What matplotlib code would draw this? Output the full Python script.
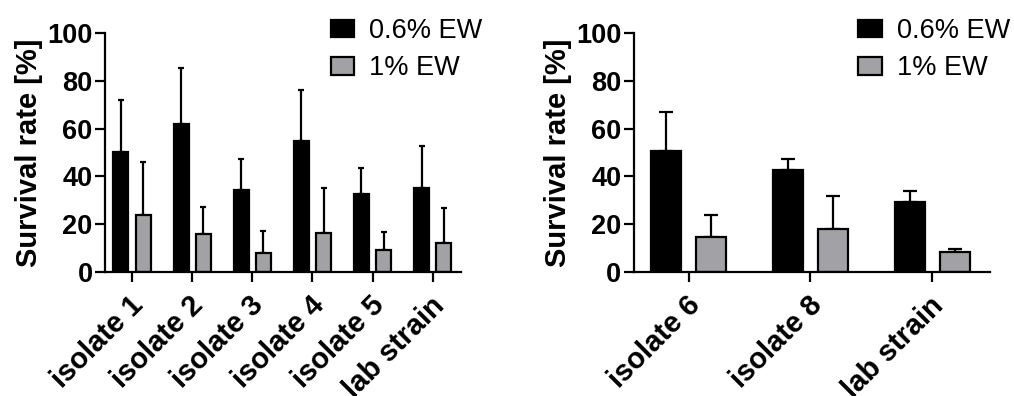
import numpy as np
import matplotlib
matplotlib.use('Agg')
import matplotlib.pyplot as plt
import matplotlib.transforms as mtransforms
from matplotlib.patches import Patch

plt.rcParams['font.family'] = ['Liberation Sans', 'DejaVu Sans']

# left panel
left_cats = ['isolate 1', 'isolate 2', 'isolate 3', 'isolate 4', 'isolate 5', 'lab strain']
left_low = [50.4, 61.7, 34.1, 54.7, 32.6, 35.1]
left_low_sd = [21.6, 23.7, 13.3, 21.5, 11.1, 17.4]
left_high = [24.0, 15.9, 7.9, 16.3, 9.1, 12.1]
left_high_sd = [22.0, 11.1, 9.2, 18.9, 7.5, 14.5]

# right panel
right_cats = ['isolate 6', 'isolate 8', 'lab strain']
right_low = [50.7, 42.5, 29.4]
right_low_sd = [16.3, 4.9, 4.4]
right_high = [14.5, 18.0, 8.2]
right_high_sd = [9.5, 14.0, 1.4]

series_names = ['0.6% EW', '1% EW']
BLACK = '#000000'
GREY = '#a2a2a6'

fig = plt.figure(figsize=(10.14, 3.96), dpi=100, facecolor='white')
ax1 = fig.add_axes([0.1036, 0.313, 0.351, 0.604])
ax2 = fig.add_axes([0.625, 0.313, 0.351, 0.604])

# nudge rotated labels down-right a bit
shift = mtransforms.ScaledTranslation(7 / 100, -7 / 100, fig.dpi_scale_trans)


def draw(ax, cats, low, low_sd, high, high_sd, cap, leg_x):
    x = np.arange(len(cats))
    w = 0.25
    off = 0.185
    for xs, vals, sd, col in [(x - off, low, low_sd, BLACK), (x + off, high, high_sd, GREY)]:
        ax.errorbar(xs, vals, yerr=[np.zeros(len(vals)), sd], fmt='none',
                    ecolor='black', elinewidth=1.6, capsize=cap, capthick=1.6, zorder=1)
        ax.bar(xs, vals, width=w, color=col, edgecolor='black', linewidth=1.6, zorder=2)
    ax.set_xlim(-0.45, len(cats) - 1 + 0.47)
    ax.set_ylim(0, 100)
    ax.set_yticks([0, 20, 40, 60, 80, 100])
    ax.set_xticks(x)
    for s in ['top', 'right']:
        ax.spines[s].set_visible(False)
    for s in ['left', 'bottom']:
        ax.spines[s].set_linewidth(1.6)
    ax.tick_params(axis='both', width=1.6, length=7, pad=2)
    ax.tick_params(axis='x', pad=9)
    ax.set_xticklabels(cats, rotation=45, ha='right', va='center', rotation_mode='anchor',
                       fontsize=21, fontweight='bold')
    for lab in ax.get_xticklabels():
        lab.set_transform(lab.get_transform() + shift)
    for lab in ax.get_yticklabels():
        lab.set_fontsize(19.5)
        lab.set_fontweight('bold')
    ax.set_ylabel('Survival rate [%]', fontsize=21, fontweight='bold', labelpad=3)
    handles = [Patch(facecolor=BLACK, edgecolor='black', linewidth=1.6),
               Patch(facecolor=GREY, edgecolor='black', linewidth=1.6)]
    ax.legend(handles, series_names, loc='upper left', bbox_to_anchor=(leg_x, 0.975),
              bbox_transform=fig.transFigure, frameon=False, fontsize=19.5,
              handlelength=0.88, handleheight=0.62, handletextpad=0.55,
              labelspacing=0.42, borderpad=0.3, borderaxespad=0)


draw(ax1, left_cats, left_low, left_low_sd, left_high, left_high_sd, 2.5, 0.318)
draw(ax2, right_cats, right_low, right_low_sd, right_high, right_high_sd, 4.7, 0.838)

fig.savefig('out.png', dpi=100, facecolor='white')
